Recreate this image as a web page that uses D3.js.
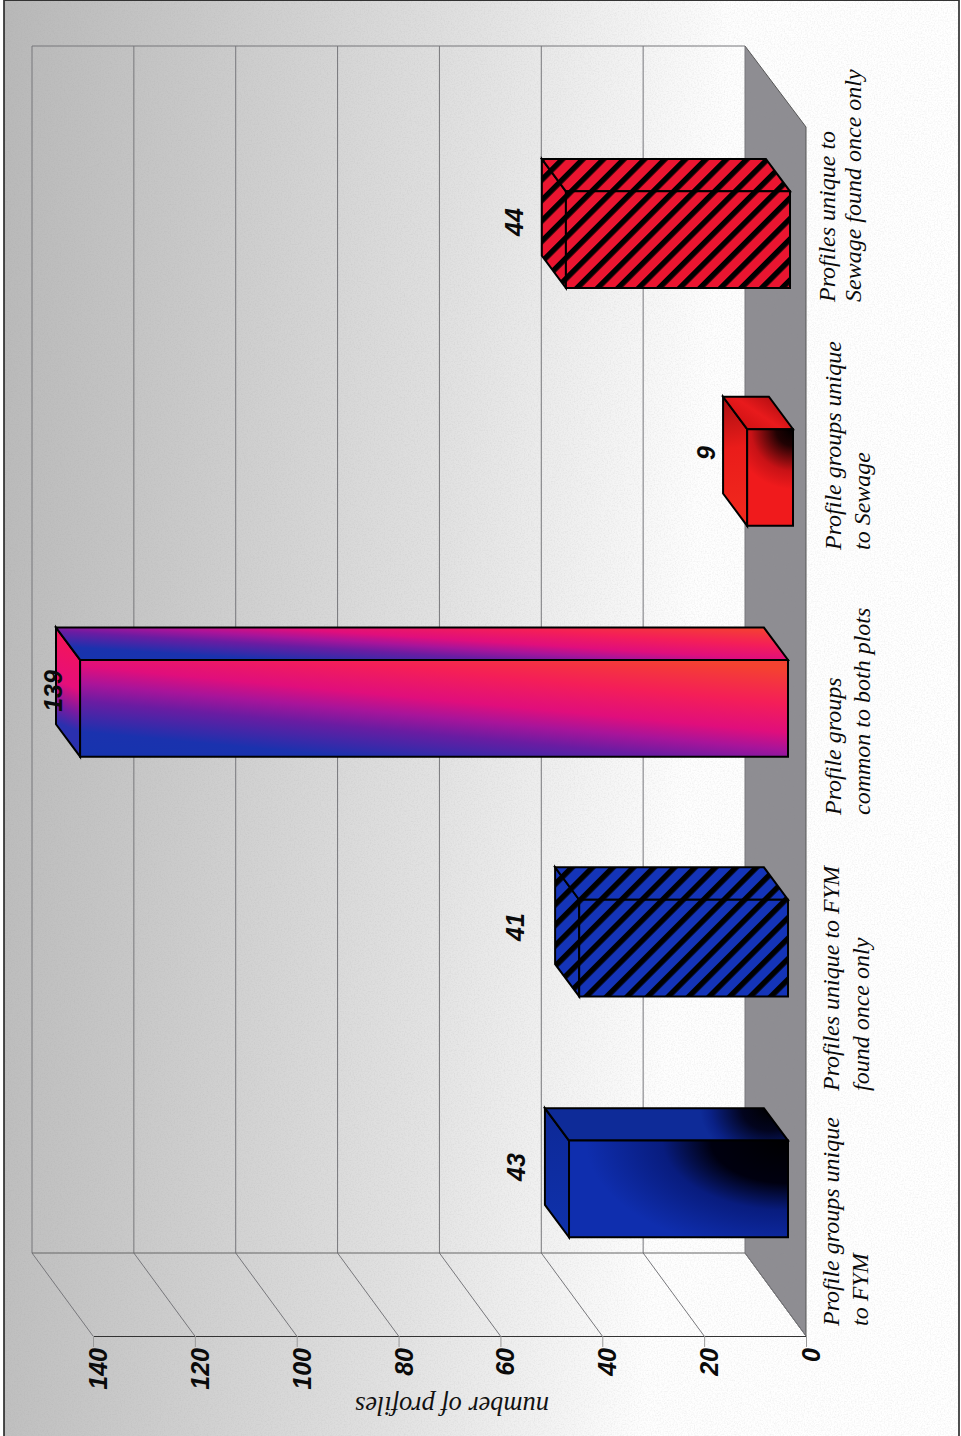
<!DOCTYPE html>
<html><head><meta charset="utf-8">
<style>html,body{margin:0;padding:0;background:#fff}svg{display:block}</style>
<script src="https://cdn.jsdelivr.net/npm/d3@7/dist/d3.min.js"></script>
</head><body><svg id="c" width="961" height="1436"></svg>
<script>
// ---- data ----
const categories = ["Profile groups unique|to FYM","Profiles unique to FYM|found once only","Profile groups|common to both plots","Profile groups unique|to Sewage","Profiles unique to|Sewage found once only"];
const values = [43,41,139,9,44];
const tickValues = [0,20,40,60,80,100,120,140];
const fills = ["blueFade","blueHatch","magentaFade","redFade","redHatch"];
const axisTitle = "number of profiles";

// ---- layout ----
const W=961,H=1436;
const depthDX=61, depthDY=82, t0=.295, t1=.69;
const x=d3.scaleLinear().domain([0,140]).range([806,93]);
const y=d3.scaleBand().domain(categories).range([1336,127]).paddingInner(.6).paddingOuter(.3);
const barNudgeX=[0,0,0,5,2], barNudgeY=[-2,-1,1,12,16];
const labelStartY=[1326,1091,815,550,302], labelBaseX=[[839,868],[839,869],[841,870],[841,870],[835,861]];
const valueBaseX=[525,524,62,715,523], valueMidY=[1167,927,691,453,222];
const svg=d3.select("#c");
const defs=svg.append("defs");
const sans="'Liberation Sans',Arial,sans-serif", serif="'Liberation Serif','Times New Roman',serif";

function lin(id,p,stops){const g=defs.append("linearGradient").attr("id",id).attr("gradientUnits","userSpaceOnUse");
  g.attr("x1",p[0]).attr("y1",p[1]).attr("x2",p[2]).attr("y2",p[3]);
  stops.forEach(s=>g.append("stop").attr("offset",s[0]).attr("stop-color",s[1]));}
function rad(id,c,r,stops,sx=1,sy=1){const g=defs.append("radialGradient").attr("id",id).attr("gradientUnits","userSpaceOnUse")
  .attr("cx",0).attr("cy",0).attr("r",r).attr("gradientTransform",`translate(${c[0]},${c[1]}) scale(${sx},${sy})`);
  stops.forEach(s=>g.append("stop").attr("offset",s[0]).attr("stop-color",s[1]));}
function hatch(id,col){const p=defs.append("pattern").attr("id",id).attr("patternUnits","userSpaceOnUse")
  .attr("width",14.5).attr("height",14.5).attr("patternTransform","rotate(-45)");
  p.append("rect").attr("width",14.5).attr("height",14.5).attr("fill",col);
  p.append("rect").attr("width",14.5).attr("height",5.5).attr("fill","#000");}
hatch("redHatch","#ea1530"); hatch("blueHatch","#1434b8");

lin("bg",[0,0,W,60],[[0,"#b8b8b8"],[.2,"#c8c8c8"],[.5,"#e2e2e2"],[.76,"#fefefe"],[1,"#fff"]]);
const noise=defs.append("filter").attr("id","grain").attr("x",0).attr("y",0).attr("width",1).attr("height",1);
noise.append("feTurbulence").attr("type","fractalNoise").attr("baseFrequency",.7).attr("numOctaves",2).attr("seed",4);
noise.append("feColorMatrix").attr("type","matrix").attr("values","0 0 0 0 .3  0 0 0 0 .3  0 0 0 0 .3  1.1 0 0 0 -.45");

// ---- backdrop ----
svg.append("rect").attr("width",W).attr("height",H).attr("fill","#fff");
svg.append("rect").attr("x",4).attr("y",0).attr("width",955).attr("height",H).attr("fill","url(#bg)");

// floor
const wallTop=127-depthDY+1, wallBottom=1336-depthDY-1;
const floorPts=[[x(0)-depthDX,wallTop],[x(0),127],[x(0),1336],[x(0)-depthDX,wallBottom]];
svg.append("path").attr("d",d3.line()(floorPts)+"Z").attr("fill","#8e8d92");
svg.append("path").attr("d",d3.line()(floorPts)).attr("fill","none").attr("stroke","#555").attr("stroke-width",1);

// scan grain, behind the marks
svg.append("rect").attr("x",4).attr("y",0).attr("width",955).attr("height",H).attr("filter","url(#grain)").attr("opacity",.25).style("pointer-events","none");

// grid: wall lines, then along the side wall down to the front axis
const g=svg.append("g");
g.selectAll("path.grid").data(tickValues).join("path").attr("class","grid")
 .attr("d",v=>d3.line()([[x(v)-depthDX,wallTop],[x(v)-depthDX,wallBottom],[x(v),1336]]))
 .attr("fill","none").attr("stroke","#77777b").attr("stroke-width",1);
g.append("line").attr("x1",x(140)-depthDX).attr("x2",x(0)-depthDX).attr("y1",wallTop).attr("y2",wallTop).attr("stroke","#77777b");
g.append("line").attr("x1",x(140)-depthDX).attr("x2",x(0)-depthDX).attr("y1",wallBottom).attr("y2",wallBottom).attr("stroke","#666");

// front value axis
const axis=svg.append("g").attr("transform","translate(0,1336)")
 .call(d3.axisBottom(x).tickValues(tickValues).tickSize(11).tickSizeOuter(0));
axis.select(".domain").attr("stroke","#333").attr("stroke-width",1.2);
axis.selectAll(".tick line").attr("stroke","#999");
axis.selectAll(".tick text")
 .attr("transform","translate(13.5,12) rotate(-90)")
 .attr("x",0).attr("y",0).attr("dy",0)
 .attr("text-anchor","end")
 .attr("font-family",sans).attr("font-weight","bold").attr("font-style","italic").attr("font-size",25).attr("fill","#0a0a0a");

// bars
const pt=(v,yy,t,i)=>[x(v)-depthDX*t+barNudgeX[i], yy-depthDY*t+barNudgeY[i]];
const line=d3.line();
const bars=categories.map((c,i)=>{
  const yb=y(c)+y.bandwidth(), yt=y(c), v=values[i];
  return {i,v,fill:fills[i],
    front:[pt(v,yt,t0,i),pt(0,yt,t0,i),pt(0,yb,t0,i),pt(v,yb,t0,i)],
    top:[pt(v,yt,t0,i),pt(v,yt,t1,i),pt(0,yt,t1,i),pt(0,yt,t0,i)],
    end:[pt(v,yt,t0,i),pt(v,yt,t1,i),pt(v,yb,t1,i),pt(v,yb,t0,i)]};
});
// face paints follow the computed bar corners
const blue="#0f2eae", red="#f01a1c";
bars.forEach(b=>{
  const [fx0,fy0]=b.front[0],[fx1]=b.front[1],[,fy1]=b.front[2],[tx1,ty1]=b.top[2];
  if(b.fill==="blueFade"){
    rad("f0",[fx1,fy0],150,[[0,"#000"],[.38,"#000010"],[.62,"#081c7e"],[1,blue]],1.35,.75);
    rad("t0",[tx1+6,ty1],70,[[0,"#000"],[.4,"#02041e"],[.85,"#0a2186"],[1,"#0e2b98"]],1,.8);
    lin("e0",[b.end[1][0],b.end[1][1],b.end[3][0],b.end[3][1]],[[0,"#0d2896"],[1,"#0f32ac"]]);
    b.paint={front:"f0",top:"t0",end:"e0"};
  }else if(b.fill==="redFade"){
    rad("f3",[fx1,fy0],60,[[0,"#000"],[.28,"#200203"],[.7,"#c81216"],[1,red]]);
    lin("t3",[tx1,ty1,b.top[0][0],b.top[0][1]],[[0,"#b80f12"],[.5,"#e81a1c"],[1,"#d01214"]]);
    lin("e3",[b.end[1][0],b.end[1][1],b.end[3][0],b.end[3][1]],[[0,"#a80e10"],[.4,"#ea1c1a"],[1,"#f22a1e"]]);
    b.paint={front:"f3",top:"t3",end:"e3"};
  }else if(b.fill==="magentaFade"){
    const st=[[0,"#1634ae"],[.13,"#1a32ae"],[.29,"#6a1ca2"],[.38,"#a8149a"],[.47,"#e00e7c"],[.62,"#f41e58"],[.8,"#f44230"]];
    lin("f2",[fx0,fy1,fx0+18,fy1-191],st);
    lin("t2",[fx0,fy0,fx0+6,fy0-94],st);
    lin("e2",[b.end[2][0]-3,b.end[2][1]-3,b.end[0][0]+2,b.end[0][1]-12],[[0,"#2a30ae"],[.22,"#7a1aa0"],[.5,"#e60e7a"],[1,"#f2145c"]]);
    b.paint={front:"f2",top:"t2",end:"e2"};
  }else b.paint={front:b.fill,top:b.fill,end:b.fill};
});
const gb=svg.append("g").selectAll("g").data(bars).join("g");
["end","top","front"].forEach(k=>{
  gb.append("path").attr("d",b=>line(b[k])+"Z")
    .attr("fill",b=>`url(#${b.paint[k]})`)
    .attr("stroke","#000").attr("stroke-width",2).attr("stroke-linejoin","miter");
});

// value labels
svg.append("g").selectAll("text").data(values).join("text")
 .attr("transform",(d,i)=>`translate(${valueBaseX[i]},${valueMidY[i]}) rotate(-90)`)
 .attr("text-anchor","middle").attr("font-family",sans).attr("font-weight","bold").attr("font-style","italic")
 .attr("font-size",25).attr("fill","#0a0a0a").text(d=>d);

// category labels
categories.forEach((c,i)=>{
  c.split("|").forEach((l,j)=>{
    svg.append("text").attr("transform",`translate(${labelBaseX[i][j]},${labelStartY[i]}) rotate(-90)`)
      .attr("font-family",serif).attr("font-style","italic").attr("font-size",24).attr("fill","#0a0a0a").text(l);
  });
});
// axis title
svg.append("text").attr("transform","translate(452,1397) rotate(180)").attr("text-anchor","middle")
 .attr("font-family",serif).attr("font-style","italic").attr("font-size",26.4).attr("fill","#111").text(axisTitle);

// frame
svg.append("line").attr("x1",4).attr("x2",4).attr("y1",0).attr("y2",H).attr("stroke","#222").attr("stroke-width",1.6);
svg.append("line").attr("x1",959).attr("x2",959).attr("y1",0).attr("y2",H).attr("stroke","#222").attr("stroke-width",1.6);
svg.append("line").attr("x1",4).attr("x2",959).attr("y1",.5).attr("y2",.5).attr("stroke","#333").attr("stroke-width",1.2);
</script></body></html>
